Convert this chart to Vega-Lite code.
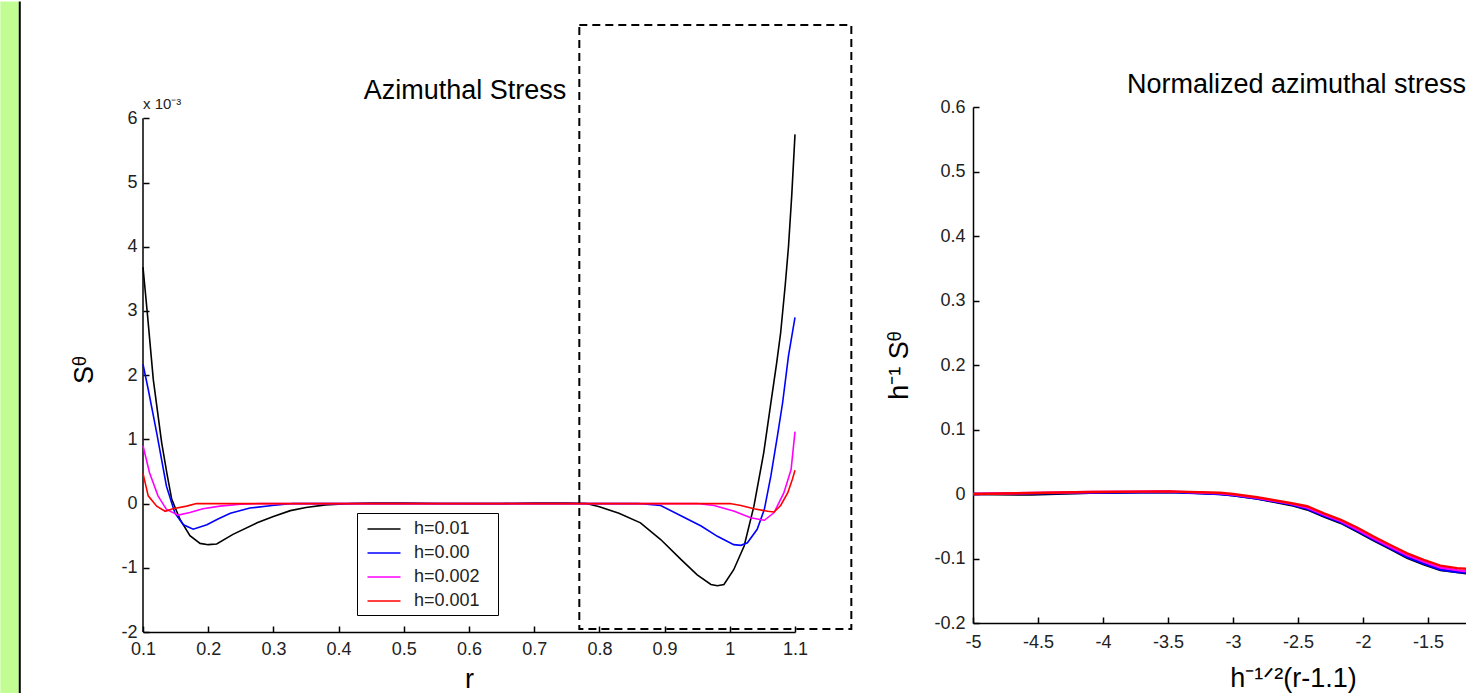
{
  "$schema": "https://vega.github.io/schema/vega-lite/v6.json",
  "padding": 0,
  "background": "white",
  "spacing": 32,
  "config": {
    "font": "Liberation Sans",
    "view": {"stroke": null},
    "axis": {
      "domainColor": "#000", "domainWidth": 1.5,
      "tickColor": "#000", "tickWidth": 1.5, "tickSize": -6,
      "labelFont": "Liberation Sans", "labelFontSize": 18, "labelColor": "#222",
      "labelPadding": 13, "labelFlush": false, "labelOverlap": false,
      "titleFont": "Liberation Sans", "titleFontSize": 27, "titleFontWeight": "normal", "titleColor": "#000",
      "grid": false
    }
  },
  "datasets": {
    "left": [
      {"h": "h=0.01", "r": 0.1, "s": 3.68}, {"h": "h=0.01", "r": 0.1066, "s": 2.97}, {"h": "h=0.01", "r": 0.1158, "s": 1.93},
      {"h": "h=0.01", "r": 0.1286, "s": 0.95}, {"h": "h=0.01", "r": 0.137, "s": 0.45}, {"h": "h=0.01", "r": 0.144, "s": 0.07},
      {"h": "h=0.01", "r": 0.15, "s": -0.08}, {"h": "h=0.01", "r": 0.157, "s": -0.25}, {"h": "h=0.01", "r": 0.172, "s": -0.5},
      {"h": "h=0.01", "r": 0.1875, "s": -0.62}, {"h": "h=0.01", "r": 0.2, "s": -0.64}, {"h": "h=0.01", "r": 0.213, "s": -0.63},
      {"h": "h=0.01", "r": 0.238, "s": -0.48}, {"h": "h=0.01", "r": 0.275, "s": -0.3}, {"h": "h=0.01", "r": 0.3, "s": -0.2},
      {"h": "h=0.01", "r": 0.326, "s": -0.11}, {"h": "h=0.01", "r": 0.35, "s": -0.06}, {"h": "h=0.01", "r": 0.38, "s": -0.02},
      {"h": "h=0.01", "r": 0.42, "s": 0.0}, {"h": "h=0.01", "r": 0.45, "s": 0.01}, {"h": "h=0.01", "r": 0.5, "s": 0.01},
      {"h": "h=0.01", "r": 0.55, "s": 0.0}, {"h": "h=0.01", "r": 0.65, "s": 0.0}, {"h": "h=0.01", "r": 0.7, "s": 0.01},
      {"h": "h=0.01", "r": 0.75, "s": 0.01}, {"h": "h=0.01", "r": 0.78, "s": 0.0}, {"h": "h=0.01", "r": 0.8, "s": -0.05},
      {"h": "h=0.01", "r": 0.83, "s": -0.15}, {"h": "h=0.01", "r": 0.863, "s": -0.3}, {"h": "h=0.01", "r": 0.894, "s": -0.56},
      {"h": "h=0.01", "r": 0.925, "s": -0.87}, {"h": "h=0.01", "r": 0.95, "s": -1.11}, {"h": "h=0.01", "r": 0.971, "s": -1.26},
      {"h": "h=0.01", "r": 0.981, "s": -1.28}, {"h": "h=0.01", "r": 0.991, "s": -1.26}, {"h": "h=0.01", "r": 1.006, "s": -1.03},
      {"h": "h=0.01", "r": 1.022, "s": -0.66}, {"h": "h=0.01", "r": 1.037, "s": -0.04}, {"h": "h=0.01", "r": 1.052, "s": 0.79},
      {"h": "h=0.01", "r": 1.063, "s": 1.57}, {"h": "h=0.01", "r": 1.072, "s": 2.2}, {"h": "h=0.01", "r": 1.078, "s": 2.66},
      {"h": "h=0.01", "r": 1.085, "s": 3.4}, {"h": "h=0.01", "r": 1.09, "s": 4.0}, {"h": "h=0.01", "r": 1.095, "s": 4.8},
      {"h": "h=0.01", "r": 1.1, "s": 5.75},

      {"h": "h=0.00", "r": 0.1, "s": 2.17}, {"h": "h=0.00", "r": 0.108, "s": 1.78}, {"h": "h=0.00", "r": 0.121, "s": 1.1},
      {"h": "h=0.00", "r": 0.136, "s": 0.27}, {"h": "h=0.00", "r": 0.149, "s": -0.15}, {"h": "h=0.00", "r": 0.162, "s": -0.33},
      {"h": "h=0.00", "r": 0.177, "s": -0.4}, {"h": "h=0.00", "r": 0.198, "s": -0.33}, {"h": "h=0.00", "r": 0.215, "s": -0.24},
      {"h": "h=0.00", "r": 0.234, "s": -0.15}, {"h": "h=0.00", "r": 0.264, "s": -0.07}, {"h": "h=0.00", "r": 0.298, "s": -0.03},
      {"h": "h=0.00", "r": 0.33, "s": 0.0}, {"h": "h=0.00", "r": 0.5, "s": 0.0}, {"h": "h=0.00", "r": 0.7, "s": 0.0},
      {"h": "h=0.00", "r": 0.86, "s": 0.0}, {"h": "h=0.00", "r": 0.894, "s": -0.03}, {"h": "h=0.00", "r": 0.925, "s": -0.19},
      {"h": "h=0.00", "r": 0.956, "s": -0.35}, {"h": "h=0.00", "r": 0.981, "s": -0.51}, {"h": "h=0.00", "r": 1.006, "s": -0.64},
      {"h": "h=0.00", "r": 1.017, "s": -0.65}, {"h": "h=0.00", "r": 1.027, "s": -0.61}, {"h": "h=0.00", "r": 1.042, "s": -0.4},
      {"h": "h=0.00", "r": 1.053, "s": -0.09}, {"h": "h=0.00", "r": 1.063, "s": 0.43}, {"h": "h=0.00", "r": 1.073, "s": 1.05},
      {"h": "h=0.00", "r": 1.081, "s": 1.57}, {"h": "h=0.00", "r": 1.09, "s": 2.3}, {"h": "h=0.00", "r": 1.095, "s": 2.6},
      {"h": "h=0.00", "r": 1.1, "s": 2.9},

      {"h": "h=0.002", "r": 0.1, "s": 0.9}, {"h": "h=0.002", "r": 0.11, "s": 0.48}, {"h": "h=0.002", "r": 0.123, "s": 0.12},
      {"h": "h=0.002", "r": 0.136, "s": -0.09}, {"h": "h=0.002", "r": 0.154, "s": -0.18}, {"h": "h=0.002", "r": 0.172, "s": -0.14},
      {"h": "h=0.002", "r": 0.192, "s": -0.08}, {"h": "h=0.002", "r": 0.218, "s": -0.04}, {"h": "h=0.002", "r": 0.25, "s": -0.01},
      {"h": "h=0.002", "r": 0.28, "s": 0.0}, {"h": "h=0.002", "r": 0.6, "s": 0.0}, {"h": "h=0.002", "r": 0.95, "s": 0.0},
      {"h": "h=0.002", "r": 0.976, "s": -0.03}, {"h": "h=0.002", "r": 1.007, "s": -0.12}, {"h": "h=0.002", "r": 1.032, "s": -0.22},
      {"h": "h=0.002", "r": 1.053, "s": -0.26}, {"h": "h=0.002", "r": 1.068, "s": -0.14}, {"h": "h=0.002", "r": 1.083, "s": 0.17},
      {"h": "h=0.002", "r": 1.094, "s": 0.53}, {"h": "h=0.002", "r": 1.1, "s": 1.12},

      {"h": "h=0.001", "r": 0.1, "s": 0.47}, {"h": "h=0.001", "r": 0.108, "s": 0.12}, {"h": "h=0.001", "r": 0.121, "s": -0.04},
      {"h": "h=0.001", "r": 0.134, "s": -0.12}, {"h": "h=0.001", "r": 0.146, "s": -0.08}, {"h": "h=0.001", "r": 0.167, "s": -0.04},
      {"h": "h=0.001", "r": 0.182, "s": 0.0}, {"h": "h=0.001", "r": 0.6, "s": 0.0}, {"h": "h=0.001", "r": 1.0, "s": 0.0},
      {"h": "h=0.001", "r": 1.017, "s": -0.03}, {"h": "h=0.001", "r": 1.037, "s": -0.08}, {"h": "h=0.001", "r": 1.058, "s": -0.12},
      {"h": "h=0.001", "r": 1.068, "s": -0.13}, {"h": "h=0.001", "r": 1.078, "s": -0.03}, {"h": "h=0.001", "r": 1.089, "s": 0.17},
      {"h": "h=0.001", "r": 1.096, "s": 0.38}, {"h": "h=0.001", "r": 1.1, "s": 0.52}
    ],
    "right": [
      {"h": "h=0.01", "x": -5, "s": 0.0}, {"h": "h=0.01", "x": -4.65, "s": -0.001}, {"h": "h=0.01", "x": -4.55, "s": -0.001},
      {"h": "h=0.01", "x": -4.1, "s": 0.002}, {"h": "h=0.01", "x": -3.5, "s": 0.003}, {"h": "h=0.01", "x": -3.3, "s": 0.002},
      {"h": "h=0.01", "x": -3.1, "s": 0.0}, {"h": "h=0.01", "x": -3.0, "s": -0.002}, {"h": "h=0.01", "x": -2.815, "s": -0.007},
      {"h": "h=0.01", "x": -2.559, "s": -0.017}, {"h": "h=0.01", "x": -2.43, "s": -0.024}, {"h": "h=0.01", "x": -2.3, "s": -0.035},
      {"h": "h=0.01", "x": -2.17, "s": -0.045}, {"h": "h=0.01", "x": -2.046, "s": -0.058}, {"h": "h=0.01", "x": -1.918, "s": -0.072},
      {"h": "h=0.01", "x": -1.79, "s": -0.085}, {"h": "h=0.01", "x": -1.66, "s": -0.099}, {"h": "h=0.01", "x": -1.533, "s": -0.109},
      {"h": "h=0.01", "x": -1.405, "s": -0.118}, {"h": "h=0.01", "x": -1.277, "s": -0.121}, {"h": "h=0.01", "x": -1.2, "s": -0.123},

      {"h": "h=0.00", "x": -5, "s": 0.0}, {"h": "h=0.00", "x": -4.1, "s": 0.002}, {"h": "h=0.00", "x": -3.5, "s": 0.003},
      {"h": "h=0.00", "x": -3.1, "s": 0.0}, {"h": "h=0.00", "x": -3.0, "s": -0.002}, {"h": "h=0.00", "x": -2.815, "s": -0.007},
      {"h": "h=0.00", "x": -2.559, "s": -0.016}, {"h": "h=0.00", "x": -2.43, "s": -0.023}, {"h": "h=0.00", "x": -2.3, "s": -0.034},
      {"h": "h=0.00", "x": -2.17, "s": -0.044}, {"h": "h=0.00", "x": -2.046, "s": -0.057}, {"h": "h=0.00", "x": -1.918, "s": -0.071},
      {"h": "h=0.00", "x": -1.79, "s": -0.084}, {"h": "h=0.00", "x": -1.66, "s": -0.098}, {"h": "h=0.00", "x": -1.533, "s": -0.108},
      {"h": "h=0.00", "x": -1.405, "s": -0.117}, {"h": "h=0.00", "x": -1.277, "s": -0.121}, {"h": "h=0.00", "x": -1.2, "s": -0.122},

      {"h": "h=0.002", "x": -5, "s": 0.0}, {"h": "h=0.002", "x": -4.1, "s": 0.003}, {"h": "h=0.002", "x": -3.5, "s": 0.004},
      {"h": "h=0.002", "x": -3.1, "s": 0.001}, {"h": "h=0.002", "x": -3.0, "s": -0.001}, {"h": "h=0.002", "x": -2.815, "s": -0.006},
      {"h": "h=0.002", "x": -2.559, "s": -0.015}, {"h": "h=0.002", "x": -2.43, "s": -0.021}, {"h": "h=0.002", "x": -2.3, "s": -0.032},
      {"h": "h=0.002", "x": -2.17, "s": -0.042}, {"h": "h=0.002", "x": -2.046, "s": -0.055}, {"h": "h=0.002", "x": -1.918, "s": -0.069},
      {"h": "h=0.002", "x": -1.79, "s": -0.082}, {"h": "h=0.002", "x": -1.66, "s": -0.095}, {"h": "h=0.002", "x": -1.533, "s": -0.105},
      {"h": "h=0.002", "x": -1.405, "s": -0.114}, {"h": "h=0.002", "x": -1.277, "s": -0.118}, {"h": "h=0.002", "x": -1.2, "s": -0.12},

      {"h": "h=0.001", "x": -5, "s": 0.0}, {"h": "h=0.001", "x": -4.1, "s": 0.003}, {"h": "h=0.001", "x": -3.5, "s": 0.004},
      {"h": "h=0.001", "x": -3.1, "s": 0.002}, {"h": "h=0.001", "x": -3.0, "s": 0.0}, {"h": "h=0.001", "x": -2.815, "s": -0.005},
      {"h": "h=0.001", "x": -2.559, "s": -0.014}, {"h": "h=0.001", "x": -2.43, "s": -0.019}, {"h": "h=0.001", "x": -2.3, "s": -0.03},
      {"h": "h=0.001", "x": -2.17, "s": -0.04}, {"h": "h=0.001", "x": -2.046, "s": -0.052}, {"h": "h=0.001", "x": -1.918, "s": -0.066},
      {"h": "h=0.001", "x": -1.79, "s": -0.079}, {"h": "h=0.001", "x": -1.66, "s": -0.092}, {"h": "h=0.001", "x": -1.533, "s": -0.102},
      {"h": "h=0.001", "x": -1.405, "s": -0.111}, {"h": "h=0.001", "x": -1.277, "s": -0.115}, {"h": "h=0.001", "x": -1.2, "s": -0.116}
    ]
  },
  "hconcat": [
    {
      "width": 652,
      "height": 525,
      "layer": [
        {
          "data": {"values": [{}]},
          "mark": {"type": "rect", "fill": "#c2fd94", "clip": false},
          "encoding": {
            "x": {"datum": -0.1188, "type": "quantitative", "title": "r", "scale": {"domain": [0.1, 1.1], "nice": false, "zero": false}},
            "x2": {"datum": -0.0905},
            "y": {"datum": 7.82, "type": "quantitative", "title": "Sᶿ", "scale": {"domain": [-2, 6.176], "nice": false, "zero": false}},
            "y2": {"datum": -2.95}
          }
        },
        {
          "data": {"values": [{}]},
          "mark": {"type": "rule", "stroke": "#000", "strokeWidth": 2, "clip": false},
          "encoding": {
            "x": {"datum": -0.089, "type": "quantitative", "title": "r", "scale": {"domain": [0.1, 1.1], "nice": false, "zero": false}},
            "y": {"datum": 7.82, "type": "quantitative", "title": "Sᶿ", "scale": {"domain": [-2, 6.176], "nice": false, "zero": false}},
            "y2": {"datum": -2.95}
          }
        },
        {
          "data": {"values": [{}]},
          "mark": {"type": "rule", "stroke": "#000", "strokeWidth": 1.5},
          "encoding": {
            "x": {"datum": 0.1, "type": "quantitative", "title": "r", "scale": {"domain": [0.1, 1.1], "nice": false, "zero": false}},
            "y": {"datum": 6, "type": "quantitative", "title": "Sᶿ", "scale": {"domain": [-2, 6.176], "nice": false, "zero": false}},
            "y2": {"datum": -2}
          }
        },
        {
          "data": {"name": "left"},
          "mark": {"type": "line", "strokeWidth": 1.6},
          "encoding": {
            "x": {
              "field": "r", "type": "quantitative", "title": "r",
              "scale": {"domain": [0.1, 1.1], "nice": false, "zero": false},
              "axis": {"values": [0.1, 0.2, 0.3, 0.4, 0.5, 0.6, 0.7, 0.8, 0.9, 1, 1.1], "format": "~g", "labelPadding": 14, "titlePadding": 8}
            },
            "y": {
              "field": "s", "type": "quantitative", "title": "Sᶿ",
              "scale": {"domain": [-2, 6.176], "nice": false, "zero": false},
              "axis": {"values": [-2, -1, 0, 1, 2, 3, 4, 5, 6], "format": "~g", "domain": false, "labelPadding": 12, "labelExpr": "replace(datum.label, '\u2212', '-')", "titlePadding": 22}
            },
            "color": {
              "field": "h", "type": "nominal",
              "scale": {"domain": ["h=0.01", "h=0.00", "h=0.002", "h=0.001"], "range": ["#000000", "#0000ff", "#ff00ff", "#ff0000"]},
              "legend": {
                "orient": "none", "legendX": 214, "legendY": 406, "title": null,
                "symbolType": "M-1.65,0H1.65", "symbolSize": 400, "symbolStrokeWidth": 1.5, "symbolOffset": 11,
                "labelFont": "Liberation Sans", "labelFontSize": 18, "labelColor": "#222", "labelOffset": 19,
                "labelExpr": "datum.label + '\u2800'",
                "strokeColor": "#000", "fillColor": "#fff", "padding": 5, "rowPadding": 4
              }
            }
          }
        },
        {
          "data": {"values": [{}]},
          "mark": {"type": "rect", "fill": null, "stroke": "#000", "strokeWidth": 2, "strokeDash": [8, 5], "clip": false},
          "encoding": {
            "x": {"datum": 0.7692, "type": "quantitative", "title": "r", "scale": {"domain": [0.1, 1.1], "nice": false, "zero": false}},
            "x2": {"datum": 1.1864},
            "y": {"datum": 7.453, "type": "quantitative", "title": "Sᶿ", "scale": {"domain": [-2, 6.176], "nice": false, "zero": false}},
            "y2": {"datum": -1.954}
          }
        },
        {
          "data": {"values": [{}]},
          "mark": {"type": "text", "align": "left", "baseline": "alphabetic", "dy": -9, "fontSize": 15, "font": "Liberation Sans", "color": "#222", "clip": false},
          "encoding": {
            "x": {"datum": 0.1, "type": "quantitative", "title": "r", "scale": {"domain": [0.1, 1.1], "nice": false, "zero": false}},
            "y": {"datum": 6, "type": "quantitative", "title": "Sᶿ", "scale": {"domain": [-2, 6.176], "nice": false, "zero": false}},
            "text": {"value": "x 10⁻³"}
          }
        },
        {
          "data": {"values": [{}]},
          "mark": {"type": "text", "align": "center", "baseline": "alphabetic", "fontSize": 27, "font": "Liberation Sans", "color": "#000", "clip": false},
          "encoding": {
            "x": {"datum": 0.594, "type": "quantitative", "title": "r", "scale": {"domain": [0.1, 1.1], "nice": false, "zero": false}},
            "y": {"datum": 6.3, "type": "quantitative", "title": "Sᶿ", "scale": {"domain": [-2, 6.176], "nice": false, "zero": false}},
            "text": {"value": "Azimuthal Stress"}
          }
        }
      ]
    },
    {
      "width": 493,
      "height": 516,
      "layer": [
        {
          "data": {"name": "right"},
          "mark": {"type": "line", "strokeWidth": 2.4, "clip": true},
          "encoding": {
            "x": {
              "field": "x", "type": "quantitative", "title": "h⁻¹ᐟ²(r-1.1)",
              "scale": {"domain": [-5, -1.2077], "nice": false, "zero": false},
              "axis": {"values": [-5, -4.5, -4, -3.5, -3, -2.5, -2, -1.5], "format": "~g", "labelPadding": 16, "labelExpr": "replace(datum.label, '\u2212', '-')", "titleX": 320, "titlePadding": 14}
            },
            "y": {
              "field": "s", "type": "quantitative", "title": "h⁻¹ Sᶿ",
              "scale": {"domain": [-0.2, 0.6], "nice": false, "zero": false},
              "axis": {"values": [-0.2, -0.1, 0, 0.1, 0.2, 0.3, 0.4, 0.5, 0.6], "format": "~g", "labelPadding": 14, "labelExpr": "replace(datum.label, '\u2212', '-')", "titlePadding": 20}
            },
            "color": {
              "field": "h", "type": "nominal",
              "scale": {"domain": ["h=0.01", "h=0.00", "h=0.002", "h=0.001"], "range": ["#000000", "#0000ff", "#ff00ff", "#ff0000"]},
              "legend": null
            }
          }
        },
        {
          "data": {"values": [{}]},
          "mark": {"type": "text", "align": "right", "baseline": "alphabetic", "fontSize": 27, "font": "Liberation Sans", "color": "#000", "clip": false},
          "encoding": {
            "x": {"datum": -1.2077, "type": "quantitative", "title": "h⁻¹ᐟ²(r-1.1)", "scale": {"domain": [-5, -1.2077], "nice": false, "zero": false}},
            "y": {"datum": 0.6217, "type": "quantitative", "title": "h⁻¹ Sᶿ", "scale": {"domain": [-0.2, 0.6], "nice": false, "zero": false}},
            "text": {"value": "Normalized azimuthal stress"}
          }
        }
      ]
    }
  ],
  "resolve": {"scale": {"color": "independent"}, "legend": {"color": "independent"}}
}
